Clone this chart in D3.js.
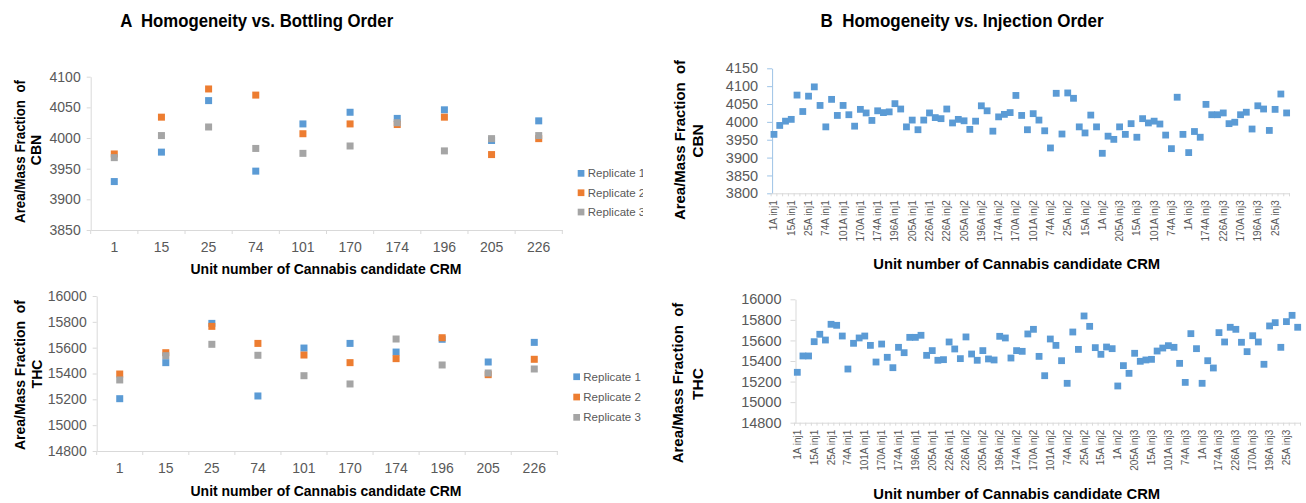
<!DOCTYPE html>
<html><head><meta charset="utf-8">
<script src="https://cdn.jsdelivr.net/npm/d3@7"></script>
<style>body{margin:0;background:#fff}svg{display:block}</style>
</head><body><svg id="chart" width="1306" height="503"></svg>
<script>
// ---------- DATA ----------
const units = ["1","15","25","74","101","170","174","196","205","226"];
const seriesNames = ["Replicate 1","Replicate 2","Replicate 3"];
const cbnRep1 = [3929,3977,4061,3946,4023,4042,4032,4046,3996,4028];
const cbnRep2 = [3974,4034,4080,4070,4007,4023,4022,4034,3973,3999];
const cbnRep3 = [3968,4004,4018,3983,3975,3987,4025,3979,3999,4004];
const thcRep1 = [15205,15484,15788,15226,15597,15633,15566,15665,15489,15641];
const thcRep2 = [15396,15561,15765,15633,15543,15484,15515,15677,15391,15510];
const thcRep3 = [15350,15538,15626,15541,15383,15319,15667,15466,15404,15435];
const cbnTicksA = [3850,3900,3950,4000,4050,4100];
const thcTicks = [14800,15000,15200,15400,15600,15800,16000];
const cbnTicksB = [3800,3850,3900,3950,4000,4050,4100,4150];
const injLabels = [
 "1A inj1","1B inj1","1C inj1","15A inj1","15B inj1","15C inj1","25A inj1","25B inj1","25C inj1",
 "74A inj1","74B inj1","74C inj1","101A inj1","101B inj1","101C inj1","170A inj1","170B inj1","170C inj1",
 "174A inj1","174B inj1","174C inj1","196A inj1","196B inj1","196C inj1","205A inj1","205B inj1","205C inj1",
 "226A inj1","226B inj1","226C inj1",
 "226A inj2","226B inj2","226C inj2","205A inj2","205B inj2","205C inj2","196A inj2","196B inj2","196C inj2",
 "174A inj2","174B inj2","174C inj2","170A inj2","170B inj2","170C inj2","101A inj2","101B inj2","101C inj2",
 "74A inj2","74B inj2","74C inj2","25A inj2","25B inj2","25C inj2","15A inj2","15B inj2","15C inj2",
 "1A inj2","1B inj2","1C inj2",
 "205A inj3","205B inj3","205C inj3","15A inj3","15B inj3","15C inj3","101A inj3","101B inj3","101C inj3",
 "74A inj3","74B inj3","74C inj3","1A inj3","1B inj3","1C inj3","174A inj3","174B inj3","174C inj3",
 "226A inj3","226B inj3","226C inj3","170A inj3","170B inj3","170C inj3","196A inj3","196B inj3","196C inj3",
 "25A inj3","25B inj3","25C inj3"];
const cbnInj = [3965,3990,4002,4007,4075,4029,4072,4098,4046,3986,
 4063,4018,4046,4020,3988,4035,4025,4004,4031,4026,
 4028,4051,4036,3986,4005,3978,4005,4025,4012,4009,
 4036,3997,4007,4003,3979,4002,4045,4031,3974,4014,
 4021,4026,4074,4018,3978,4023,4005,3975,3927,4080,
 3966,4081,4066,3986,3969,4019,3986,3912,3960,3951,
 3986,3965,3995,3957,4009,3997,4002,3994,3963,3925,
 4069,3965,3914,3973,3957,4049,4020,4020,4025,3995,
 3999,4020,4027,3980,4045,4036,3976,4035,4078,4025];
const thcInj = [15290,15449,15449,15588,15660,15604,15757,15747,15643,15322,
 15572,15624,15643,15552,15390,15565,15436,15335,15533,15481,
 15630,15630,15650,15455,15501,15407,15413,15585,15517,15423,
 15634,15468,15407,15501,15420,15410,15640,15624,15429,15501,
 15494,15663,15708,15445,15257,15614,15552,15403,15183,15682,
 15513,15838,15737,15530,15465,15536,15520,15157,15355,15280,
 15475,15397,15410,15416,15497,15526,15549,15533,15377,15192,
 15666,15520,15183,15403,15332,15676,15585,15728,15708,15582,
 15491,15646,15585,15368,15741,15773,15533,15783,15844,15728];

// ---------- DRAW ----------
const FONT = '"Liberation Sans", Arial, sans-serif';
const AXIS = "#d9d9d9", TXT = "#595959";
const colors = ["#5B9BD5","#ED7D31","#A5A5A5"];
const fmt = d3.format("d");
const svg = d3.select("#chart");

function styleAxis(g, lineColor, fs){
  g.select(".domain").attr("stroke", lineColor);
  g.selectAll(".tick line").attr("stroke", lineColor);
  g.selectAll(".tick text").attr("fill", TXT).style("font-size", fs+"px").style("font-family", FONT);
}
function title(txt, x, y, len, fs){
  svg.append("text").attr("x", x).attr("y", y).attr("text-anchor","middle")
    .attr("textLength", len).attr("lengthAdjust","spacingAndGlyphs")
    .style("white-space","pre").style("font-family", FONT).style("font-weight","bold")
    .style("font-size", fs+"px").attr("fill","#000").text(txt);
}
function vtitle(txt, x, y, len, fs){
  const t = svg.append("text").attr("transform",`translate(${x},${y}) rotate(-90)`)
    .attr("text-anchor","middle").attr("dy","0.35em")
    .style("white-space","pre").style("font-family", FONT).style("font-weight","bold")
    .style("font-size", fs+"px").attr("fill","#000").text(txt);
  if (len) t.attr("textLength", len).attr("lengthAdjust","spacingAndGlyphs");
}

function bottling(cfg){
  const x = d3.scaleBand().domain(units).range(cfg.xr);
  const y = d3.scaleLinear().domain(cfg.yd).range(cfg.yr);
  const gy = svg.append("g").attr("transform",`translate(${cfg.xr[0]},0)`)
    .call(d3.axisLeft(y).tickValues(cfg.ticks).tickFormat(fmt).tickSize(4).tickPadding(6).tickSizeOuter(0));
  styleAxis(gy, AXIS, 14);
  const gx = svg.append("g").attr("transform",`translate(0,${cfg.yr[0]})`)
    .call(d3.axisBottom(x).tickSize(0).tickPadding(12).tickSizeOuter(0));
  styleAxis(gx, AXIS, 14);
  svg.append("g").selectAll("line").data(d3.range(units.length + 1)).join("line")
    .attr("x1", i => x.range()[0] + i * x.step()).attr("x2", i => x.range()[0] + i * x.step())
    .attr("y1", cfg.yr[0]).attr("y2", cfg.yr[0] + 4).attr("stroke", AXIS);
  cfg.series.forEach((vals, s) => {
    svg.append("g").selectAll("rect").data(vals).join("rect")
      .attr("x", (d,i) => x(units[i]) + x.bandwidth()/2 - 3.5)
      .attr("y", d => y(d) - 3.5).attr("width", 7).attr("height", 7)
      .attr("fill", colors[s]);
  });
  const lg = svg.append("g");
  if (cfg.clip) {
    svg.append("clipPath").attr("id", cfg.clip).append("rect")
      .attr("x", 0).attr("y", 0).attr("width", cfg.clipX).attr("height", 503);
    lg.attr("clip-path", `url(#${cfg.clip})`);
  }
  seriesNames.forEach((n, s) => {
    const yy = cfg.legY[s];
    lg.append("rect").attr("x", cfg.legX).attr("y", yy - 3.3).attr("width", 6.7).attr("height", 6.7).attr("fill", colors[s]);
    lg.append("text").attr("x", cfg.legX + 10).attr("y", yy).attr("dy","0.35em")
      .style("font-family", FONT).style("font-size","11.5px").attr("fill", TXT).text(n);
  });
}

function injection(cfg){
  const x = d3.scaleBand().domain(injLabels).range(cfg.xr);
  const y = d3.scaleLinear().domain(cfg.yd).range(cfg.yr);
  const gy = svg.append("g").attr("transform",`translate(${cfg.xr[0]+1},0)`)
    .call(d3.axisLeft(y).tickValues(cfg.ticks).tickFormat(fmt).tickSize(5).tickPadding(9).tickSizeOuter(0));
  styleAxis(gy, cfg.yColor, 14.5);
  const gx = svg.append("g").attr("transform",`translate(0,${cfg.yr[0]})`)
    .call(d3.axisBottom(x).tickValues(injLabels.filter((d,i) => i % 3 === 0)).tickSize(0).tickSizeOuter(0));
  styleAxis(gx, AXIS, 10);
  gx.selectAll(".tick text").attr("transform","rotate(-90)").attr("x", -7).attr("y", 0)
    .attr("dy","0.35em").style("text-anchor","end");
  svg.append("g").selectAll("line").data(d3.range(injLabels.length + 1)).join("line")
    .attr("x1", i => x.range()[0] + i * x.step()).attr("x2", i => x.range()[0] + i * x.step())
    .attr("y1", cfg.yr[0]).attr("y2", cfg.yr[0] + 3).attr("stroke", AXIS);
  svg.append("g").selectAll("rect").data(cfg.values).join("rect")
    .attr("x", (d,i) => x(injLabels[i]) + x.bandwidth()/2 - 3.4)
    .attr("y", d => y(d) - 3.4).attr("width", 6.8).attr("height", 6.8)
    .attr("fill", colors[0]);
}

// Titles
title("A  Homogeneity vs. Bottling Order", 256.7, 27, 273, 18);
title("B  Homogeneity vs. Injection Order", 962, 27, 283, 18);

// Panel A top (CBN)
bottling({xr:[90.7,562.3], yr:[230,76.7], yd:[3850,4100], ticks:cbnTicksA,
  series:[cbnRep1,cbnRep2,cbnRep3], legX:577.7, legY:[173.3,192.7,212], clip:"clipA", clipX:643});
vtitle("Area/Mass Fraction  of", 20, 151.5, 143, 14);
vtitle("CBN", 36, 150, null, 14);
title("Unit number of Cannabis candidate CRM", 326, 273.5, 271, 14.5);

// Panel A bottom (THC)
bottling({xr:[96.7,557.3], yr:[451,296], yd:[14800,16000], ticks:thcTicks,
  series:[thcRep1,thcRep2,thcRep3], legX:573.3, legY:[376.7,397,417.3]});
vtitle("Area/Mass Fraction  of", 20, 375, 150, 14);
vtitle("THC", 37, 374, null, 14);
title("Unit number of Cannabis candidate CRM", 326, 495.5, 271, 14.5);

// Panel B top (CBN)
injection({xr:[771.1,1289.5], yr:[193.3,68.3], yd:[3800,4150], ticks:cbnTicksB,
  values:cbnInj, yColor:"#9DC3E6"});
vtitle("Area/Mass Fraction  of", 680, 140, 160, 15.5);
vtitle("CBN", 698, 141, null, 15.5);
title("Unit number of Cannabis candidate CRM", 1016.7, 269, 287, 15.5);

// Panel B bottom (THC)
injection({xr:[794.5,1300.5], yr:[422.7,299.3], yd:[14800,16000], ticks:thcTicks,
  values:thcInj, yColor:AXIS});
vtitle("Area/Mass Fraction  of", 678, 383, 160.7, 15.5);
vtitle("THC", 698, 384, null, 15.5);
title("Unit number of Cannabis candidate CRM", 1016.7, 499, 287, 15.5);
</script></body></html>
